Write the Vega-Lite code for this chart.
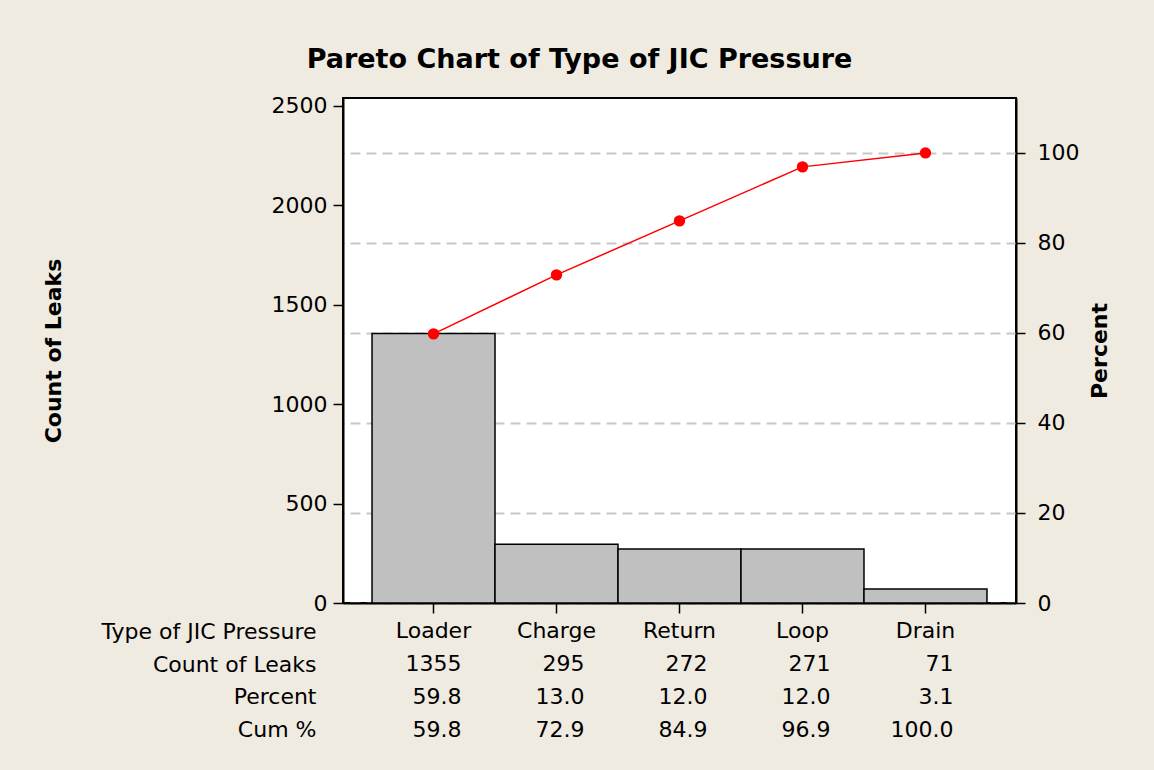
{
  "$schema": "https://vega.github.io/schema/vega-lite/v6.json",
  "background": "#EFEBE1",
  "padding": {"left": 41, "top": 45, "right": 42, "bottom": 25},
  "title": {"text": "Pareto Chart of Type of JIC Pressure", "fontSize": 27, "font": "DejaVu Sans", "fontWeight": "bold", "anchor": "middle", "color": "black", "offset": 20, "dx": 3},
  "config": {
    "font": "DejaVu Sans",
    "axis": {"labelFont": "DejaVu Sans", "titleFont": "DejaVu Sans", "labelColor": "black", "titleColor": "black", "domainColor": "black", "tickColor": "black", "labelLimit": 0}
  },
  "data": {"values": [
    {"category": "Loader", "count": 1355, "pct": 59.8, "cum": 59.8},
    {"category": "Charge", "count": 295, "pct": 13.0, "cum": 72.9},
    {"category": "Return", "count": 272, "pct": 12.0, "cum": 84.9},
    {"category": "Loop", "count": 271, "pct": 12.0, "cum": 96.9},
    {"category": "Drain", "count": 71, "pct": 3.1, "cum": 100.0}
  ]},
  "spacing": 0,
  "vconcat": [
    {
      "width": 673,
      "height": 505,
      "view": {"stroke": "black", "strokeWidth": 2, "fill": "white"},
      "layer": [
        {
          "mark": {"type": "bar", "fill": "#C0C0C0", "stroke": "black", "strokeWidth": 1.5},
          "encoding": {
            "x": {"field": "category", "type": "nominal", "sort": null,
              "scale": {"paddingInner": 0, "paddingOuter": 0.236},
              "axis": {"orient": "bottom", "labels": false, "ticks": true, "title": null, "tickSize": 10, "tickWidth": 1.5, "tickColor": "black", "domain": true, "domainWidth": 2}},
            "y": {"field": "count", "type": "quantitative",
              "scale": {"domain": [0, 2540], "nice": false},
              "axis": {"values": [0, 500, 1000, 1500, 2000, 2500], "format": "d", "grid": false, "tickSize": 10, "tickWidth": 1.5, "domainWidth": 2, "labelFontSize": 22, "labelPadding": 6, "title": "Count of Leaks", "titleFontSize": 22, "titleFontWeight": "bold", "titlePadding": 206}}
          }
        },
        {
          "encoding": {
            "x": {"field": "category", "type": "nominal", "sort": null},
            "y": {"field": "cum", "type": "quantitative",
              "scale": {"domain": [0, 112.2], "nice": false},
              "axis": {"orient": "right", "values": [0, 20, 40, 60, 80, 100], "grid": true, "gridDash": [10, 6], "gridColor": "#C8C8C8", "gridWidth": 2, "tickSize": 9, "tickWidth": 1.5, "domainWidth": 2, "labelFontSize": 22, "labelPadding": 12, "title": "Percent", "titleAngle": -90, "titleFontSize": 22, "titleFontWeight": "bold", "titlePadding": 33}}
          },
          "layer": [
            {"mark": {"type": "line", "color": "#FF0000", "strokeWidth": 1.5}},
            {"mark": {"type": "point", "filled": true, "color": "#FF0000", "size": 130, "opacity": 1}}
          ]
        }
      ],
      "resolve": {"scale": {"y": "independent"}}
    },
    {
      "width": 673,
      "height": 131,
      "view": {"stroke": null},
      "encoding": {
        "x": {"field": "category", "type": "nominal", "sort": null,
          "scale": {"type": "point", "padding": 0.736}, "axis": null}
      },
      "layer": [
        {
          "mark": {"type": "text", "align": "center", "fontSize": 22, "font": "DejaVu Sans", "color": "black"},
          "encoding": {
            "y": {"datum": "Type of JIC Pressure", "type": "nominal",
              "scale": {"domain": ["Type of JIC Pressure", "Count of Leaks", "Percent", "Cum %"]},
              "axis": {"title": null, "domain": false, "ticks": false, "labelFontSize": 22, "labelPadding": 27, "labelAlign": "right"}},
            "text": {"field": "category"}
          }
        },
        {
          "mark": {"type": "text", "align": "right", "dx": 28, "fontSize": 22, "font": "DejaVu Sans", "color": "black"},
          "encoding": {
            "y": {"datum": "Count of Leaks", "type": "nominal"},
            "text": {"field": "count", "type": "quantitative", "format": "d"}
          }
        },
        {
          "mark": {"type": "text", "align": "right", "dx": 28, "fontSize": 22, "font": "DejaVu Sans", "color": "black"},
          "encoding": {
            "y": {"datum": "Percent", "type": "nominal"},
            "text": {"field": "pct", "type": "quantitative", "format": ".1f"}
          }
        },
        {
          "mark": {"type": "text", "align": "right", "dx": 28, "fontSize": 22, "font": "DejaVu Sans", "color": "black"},
          "encoding": {
            "y": {"datum": "Cum %", "type": "nominal"},
            "text": {"field": "cum", "type": "quantitative", "format": ".1f"}
          }
        }
      ]
    }
  ]
}
